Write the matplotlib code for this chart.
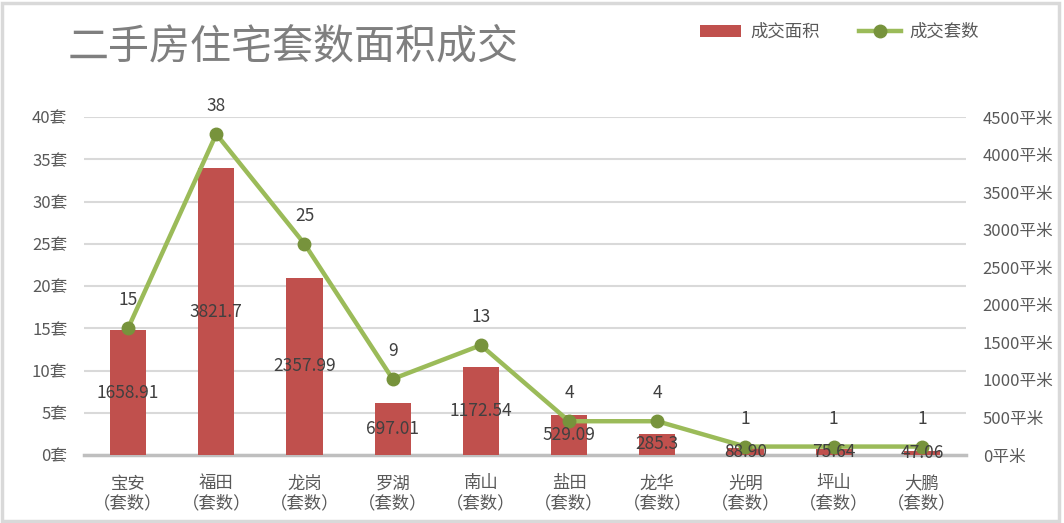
import matplotlib.pyplot as plt
from matplotlib.patches import Rectangle

plt.rcParams['font.family'] = ['Noto Sans CJK SC', 'DejaVu Sans']

# data
districts = ['宝安', '福田', '龙岗', '罗湖', '南山', '盐田', '龙华', '光明', '坪山', '大鹏']
area = [1658.91, 3821.7, 2357.99, 697.01, 1172.54, 529.09, 285.3, 88.90, 75.64, 47.06]
area_labels = ['1658.91', '3821.7', '2357.99', '697.01', '1172.54', '529.09', '285.3', '88.90', '75.64', '47.06']
units = [15, 38, 25, 9, 13, 4, 4, 1, 1, 1]

text_col = '#595959'
bar_col = '#c0504d'
line_col = '#9bbb59'
mark_col = '#77933c'

fig = plt.figure(figsize=(10.64, 5.23), dpi=100)
fig.patches.append(Rectangle((0.002, 0.004), 0.993, 0.99, transform=fig.transFigure,
                             fill=False, edgecolor='#d9d9d9', lw=2.5))

ax = fig.add_axes([0.0789, 0.130, 0.829, 0.646])
ax2 = ax.twinx()
ax3 = ax.twinx()

x = list(range(len(districts)))

# grid on bottom axis
ax.set_ylim(0, 40)
ax.set_xlim(-0.5, len(districts) - 0.5)
ax.set_yticks(range(0, 41, 5))
ax.set_yticklabels([f'{v}套' for v in range(0, 41, 5)], color=text_col, fontsize=12)
ax.grid(axis='y', color='#d9d9d9', lw=1.5)
ax.set_axisbelow(True)
ax.tick_params(axis='y', length=0, pad=12)
ax.tick_params(axis='x', length=0, pad=14)
ax.set_xticks(x)
ax.set_xticklabels([d + '\n（套数）' for d in districts], color=text_col, fontsize=12.5, linespacing=1.15)
for s in ['top', 'right', 'left']:
    ax.spines[s].set_visible(False)
ax.spines['bottom'].set_color('#bfbfbf')
ax.spines['bottom'].set_linewidth(2.5)

# bars on right axis
ax2.bar(x, area, width=0.41, color=bar_col, label='成交面积', zorder=2)
ax2.set_ylim(0, 4500)
ax2.set_yticks(range(0, 4501, 500))
ax2.set_yticklabels([f'{v}平米' for v in range(0, 4501, 500)], color=text_col, fontsize=12)
ax2.tick_params(axis='y', length=0, pad=12)
for s in ax2.spines.values():
    s.set_visible(False)

# line on top
ax3.set_ylim(0, 40)
ax3.plot(x, units, color=line_col, lw=3.2, marker='o', markersize=9,
         markerfacecolor=mark_col, markeredgecolor=mark_col, label='成交套数', zorder=3)
ax3.set_yticks([])
for s in ax3.spines.values():
    s.set_visible(False)
for xi, v in zip(x, units):
    ax3.annotate(str(v), (xi, v), xytext=(0, 28), textcoords='offset pixels',
                 ha='center', va='center', fontsize=12.5, color='#404040')
for xi, v, lab in zip(x, area, area_labels):
    ax3.text(xi, v / 2, lab, ha='center', va='center', fontsize=12.5, color='#404040',
             transform=ax2.transData, zorder=5)

fig.text(0.064, 0.91, '二手房住宅套数面积成交', fontsize=29.5, color='#7f7f7f', va='center')

h1, l1 = ax2.get_legend_handles_labels()
h2, l2 = ax3.get_legend_handles_labels()
fig.legend(h1 + h2, l1 + l2, loc='center', bbox_to_anchor=(0.789, 0.939), ncol=2,
           frameon=False, fontsize=12.5, labelcolor=text_col, handlelength=2.4,
           columnspacing=2.3, handletextpad=0.5)

fig.savefig('out.png', dpi=100)
